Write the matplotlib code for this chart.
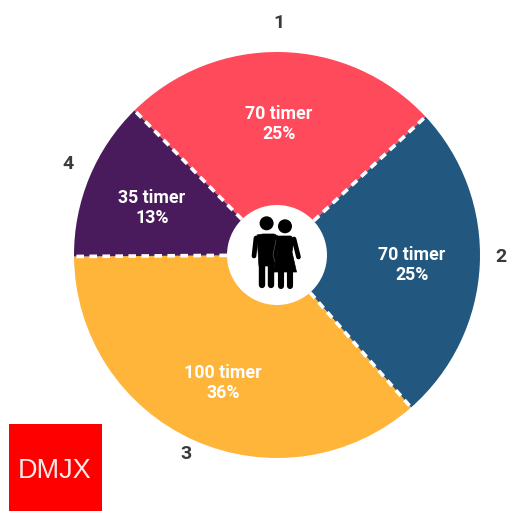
import numpy as np
import matplotlib
matplotlib.use("Agg")
import matplotlib.pyplot as plt
from matplotlib.patches import Circle, Rectangle, Polygon

W, H = 507, 511
categories = ["1", "2", "3", "4"]
hours = [70, 70, 100, 35]
percents = [25, 25, 36, 13]
colors = ["#FF4A5C", "#22577F", "#FFB43A", "#4A1B5C"]

def py(y):
    return H - y

CX, CY, R, HOLE = 277, py(255), 203, 50
START = 134.6

fig = plt.figure(figsize=(W / 100, H / 100), dpi=100)
ax = fig.add_axes([0, 0, 1, 1])
ax.pie(hours, colors=colors, startangle=START, counterclock=False,
       center=(CX, CY), radius=R, wedgeprops=dict(linewidth=0))
ax.set_xlim(0, W)
ax.set_ylim(0, H)
ax.set_aspect("equal")
ax.axis("off")

# dashed dividers at the slice boundaries
edges = START - np.cumsum([0] + hours[:-1]) / sum(hours) * 360
for a in np.radians(edges):
    ax.plot([CX + HOLE * np.cos(a), CX + R * np.cos(a)],
            [CY + HOLE * np.sin(a), CY + R * np.sin(a)],
            color="white", lw=2.6, dashes=(2.1, 1.5), zorder=3)

ax.add_patch(Circle((CX, CY), HOLE, color="white", lw=0, zorder=4))

# labels inside the slices
inner_pos = [(279, 124), (412, 265), (223, 383), (152, 208)]
for (x, y), h, p in zip(inner_pos, hours, percents):
    ax.text(x, py(y), f"{h} timer\n{p}%", color="white", ha="center", va="center",
            family="Roboto", weight="bold", fontsize=12.8, linespacing=1.14, zorder=5)

# category labels
outer_pos = [(279, 23), (501, 257), (186, 454), (68, 164)]
for (x, y), c in zip(outer_pos, categories):
    ax.text(x, py(y), c, color="#3A3A3A", ha="center", va="center",
            family="Roboto", weight="bold", fontsize=14, zorder=5)

# people icon
k = "black"
def poly(pts, **kw):
    ax.add_patch(Polygon([(x, py(y)) for x, y in pts], closed=True, fc=k, ec=k,
                         lw=0.5, joinstyle="round", zorder=6, **kw))
def limb(x0, y0, x1, y1, w):
    ax.plot([x0, x1], [py(y0), py(y1)], color=k, lw=w, solid_capstyle="round", zorder=6)

ax.add_patch(Circle((266.6, py(223.3)), 7, color=k, lw=0, zorder=6))
ax.add_patch(Circle((285, py(226.3)), 7, color=k, lw=0, zorder=6))
# man
poly([(257, 235), (263, 234), (274, 234), (280, 237), (276, 262), (274, 266), (259, 266)])
limb(256, 238, 254, 256, 3.4)
limb(262, 262, 262, 285, 4.6)
limb(270.5, 262, 270.5, 285, 4.6)
# woman
poly([(279, 236), (291, 236), (294, 240), (292, 252), (296.5, 272), (273, 272), (278, 252), (276, 240)])
ax.plot([276, 273, 275], [py(240), py(255), py(262)], color="#555555", lw=0.5, zorder=7)
limb(294, 239, 298.5, 257, 3.4)
limb(280.5, 270, 280.5, 286, 4.4)
limb(289.5, 270, 289.5, 286, 4.4)

# logo
ax.add_patch(Rectangle((9, 0), 93, py(424), fc="#FF0000", ec="none", zorder=6))
ax.text(55, py(471), "DMJX", color="#FFE8E8", ha="center", va="center",
        family="Liberation Sans", fontsize=19.5, zorder=7)

fig.savefig("out.png", dpi=100, facecolor="white")
